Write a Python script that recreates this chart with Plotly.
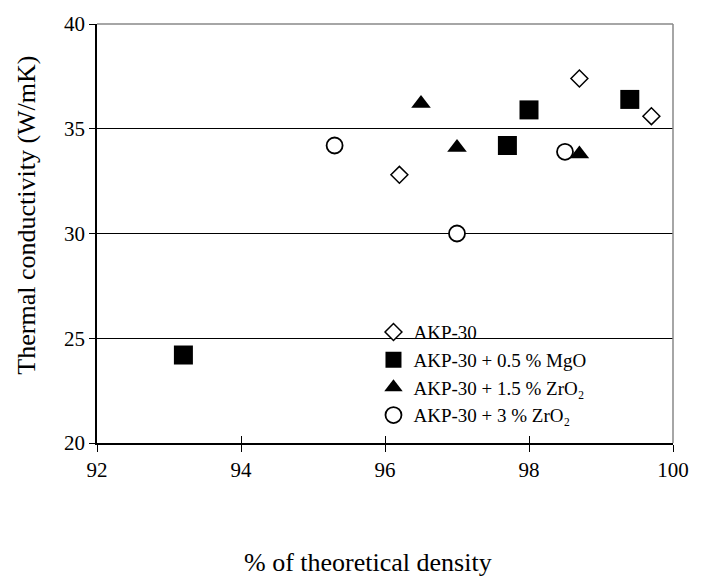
import plotly.graph_objects as go

# ---- data ----
akp_x = [96.2, 98.7, 99.7]
akp_y = [32.8, 37.4, 35.6]
mgo_x = [93.2, 97.7, 98.0, 99.4]
mgo_y = [24.2, 34.2, 35.9, 36.4]
zr15_x = [96.5, 97.0, 98.7]
zr15_y = [36.2, 34.1, 33.8]
zr3_x = [95.3, 97.0, 98.5]
zr3_y = [34.2, 30.0, 33.9]

x_ticks = [92, 94, 96, 98, 100]
y_ticks = [20, 25, 30, 35, 40]

names = ["AKP-30", "AKP-30 + 0.5 % MgO", "AKP-30 + 1.5 % ZrO₂", "AKP-30 + 3 % ZrO₂"]

FONT = "Liberation Serif, Times New Roman, serif"

fig = go.Figure()
fig.add_trace(go.Scatter(x=akp_x, y=akp_y, mode="markers", name=names[0],
                         marker=dict(symbol="diamond", size=13, color="white",
                                     line=dict(color="black", width=1.5))))
fig.add_trace(go.Scatter(x=mgo_x, y=mgo_y, mode="markers", name=names[1],
                         marker=dict(symbol="square", size=19, color="black",
                                     line=dict(color="black", width=0))))
fig.add_trace(go.Scatter(x=zr15_x, y=zr15_y, mode="markers", name=names[2],
                         marker=dict(symbol="triangle-up", size=17, color="black",
                                     line=dict(color="black", width=0))))
fig.add_trace(go.Scatter(x=zr3_x, y=zr3_y, mode="markers", name=names[3],
                         marker=dict(symbol="circle", size=16, color="white",
                                     line=dict(color="black", width=1.8))))
# overlay axis to draw the inner half of the crossing x ticks
fig.add_trace(go.Scatter(x=[92, 100], y=[20, 20], mode="markers", xaxis="x2",
                         marker=dict(opacity=0), showlegend=False, hoverinfo="skip"))

fig.update_layout(
    width=701, height=582,
    margin=dict(l=97, r=20, t=15, b=139),
    paper_bgcolor="white", plot_bgcolor="white",
    font=dict(family=FONT, size=21, color="black"),
    showlegend=True,
    legend=dict(x=0.48, y=0.31, xanchor="left", yanchor="top",
                bgcolor="rgba(0,0,0,0)", borderwidth=0,
                font=dict(family=FONT, size=19, color="black"),
                tracegroupgap=0, itemsizing="trace"),
    xaxis=dict(range=[92, 100], tickvals=x_ticks, ticktext=[str(v) for v in x_ticks],
               showgrid=False, zeroline=False, showline=True, linecolor="black", linewidth=1.5,
               ticks="outside", ticklen=7, tickwidth=1, tickcolor="black",
               tickfont=dict(family=FONT, size=21), mirror=False),
    xaxis2=dict(range=[92, 100], overlaying="x", anchor="y", side="bottom",
                tickvals=x_ticks, showticklabels=False, showgrid=False, zeroline=False,
                showline=False, ticks="inside", ticklen=7, tickwidth=1, tickcolor="black"),
    yaxis=dict(range=[20, 40], tickvals=y_ticks, ticktext=[str(v) for v in y_ticks],
               showgrid=True, gridcolor="black", gridwidth=1, zeroline=False,
               showline=True, linecolor="black", linewidth=1.5,
               ticks="outside", ticklen=6, tickwidth=1, tickcolor="black",
               tickfont=dict(family=FONT, size=21)),
    shapes=[
        dict(type="line", xref="paper", yref="paper", x0=0, x1=1, y0=1, y1=1,
             line=dict(color="#888888", width=1.5)),
        dict(type="line", xref="paper", yref="paper", x0=1, x1=1, y0=0, y1=1,
             line=dict(color="#888888", width=1.5)),
    ],
    annotations=[
        dict(text="% of theoretical density", xref="paper", yref="paper",
             x=0.471, y=-0.286, xanchor="center", yanchor="middle", showarrow=False,
             font=dict(family=FONT, size=26)),
        dict(text="Thermal conductivity (W/mK)", xref="paper", yref="paper",
             x=-0.124, y=0.544, xanchor="center", yanchor="middle", showarrow=False,
             textangle=-90, font=dict(family=FONT, size=26)),
    ],
)

fig.write_html("out.html")
